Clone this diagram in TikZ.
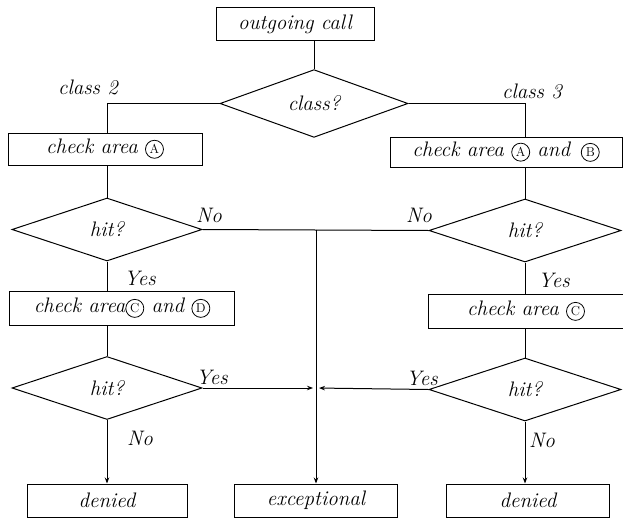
\documentclass[tikz,border=0pt]{standalone}
\usepackage{tikz}
\usetikzlibrary{positioning,arrows.meta,shapes.geometric}

\newcommand{\circletter}[1]{\tikz[baseline=(cl.base)]\node[draw, circle, line width=0.8pt,
  inner sep=0pt, minimum size=18pt, font=\fontsize{13}{14}\selectfont\upshape] (cl) {#1};}

\begin{document}
\begin{tikzpicture}[
  x=1pt, y=-1pt, line width=1pt,
  every node/.style={font=\fontsize{21}{24}\selectfont\itshape},
  stepbox/.style={draw, rectangle, minimum height=33pt, inner sep=2pt},
  test/.style={draw, diamond, inner sep=0pt, minimum width=190pt, minimum height=63pt},
  arr/.style={-{Stealth[length=6pt, width=4.5pt]}},
]
\useasboundingbox (0,0) rectangle (623,519);

% Start
\node[stepbox, minimum width=158pt] (out) at (295,24) {outgoing call};
\node[test, minimum width=188pt] (cls) at (314,103.5) {class?};

% Left branch (class 2)
\node[stepbox, minimum width=194pt, minimum height=32pt] (ckA) at (105,149)
  {check area \circletter{A}};
\node[test] (hitA) at (107,229.5) {hit?};
\node[stepbox, minimum width=225pt, minimum height=34pt] (ckCD) at (122,308)
  {check area\circletter{C} and \circletter{D}};
\node[test] (hitCD) at (107,388) {hit?};
\node[stepbox, minimum width=160pt] (denL) at (107,500.5) {denied};

% Right branch (class 3)
\node[stepbox, minimum width=232pt, minimum height=30pt] (ckAB) at (506,152)
  {check area \circletter{A} and \,\circletter{B}};
\node[test, minimum width=192pt] (hitAB) at (525,230.5) {hit?};
\node[stepbox, minimum width=195pt, minimum height=34pt] (ckC) at (526,311)
  {check area \circletter{C}};
\node[test, minimum width=192pt] (hitC) at (525,389.5) {hit?};
\node[stepbox, minimum width=163pt] (denR) at (528,500.5) {denied};

% Middle
\node[stepbox, minimum width=163pt] (exc) at (316,500.5) {exceptional};
\coordinate (noJoin) at (exc.north |- hitA.east);
\coordinate (yesJoin) at (exc.north |- hitCD.east);

% Branch labels
\node (lblC2) at (88,87) {class 2};
\node (lblC3) at (532,91) {class 3};
\node (lblNoA) at (209,215) {No};
\node (lblNoAB) at (419,215) {No};
\node (lblYesA) at (140,278) {Yes};
\node (lblYesAB) at (554,280) {Yes};
\node (lblYesCD) at (212,377) {Yes};
\node (lblYesC) at (422,378) {Yes};
\node (lblNoCD) at (140,438) {No};
\node (lblNoC) at (542,440) {No};

% Connectors
\draw (out.south -| cls.north) -- (cls.north);
\draw (cls.west) -| (hitA.north |- ckA.north);
\draw (cls.east) -| (hitAB.north |- ckAB.north);
\draw (hitA.north |- ckA.south) -- (hitA.north);
\draw (hitA.south) -- (hitA.south |- ckCD.north);
\draw (hitCD.north |- ckCD.south) -- (hitCD.north);
\draw[arr] (hitCD.south) -- (hitCD.south |- denL.north);
\draw (hitAB.north |- ckAB.south) -- (hitAB.north);
\draw (hitAB.south) -- (hitAB.south |- ckC.north);
\draw (hitC.north |- ckC.south) -- (hitC.north);
\draw[arr] (hitC.south) -- (hitC.south |- denR.north);

% Exceptional path
\draw (hitA.east) -- (hitAB.west);
\draw[arr] (noJoin) -- (exc.north);
\draw[arr, shorten >=3pt] (hitCD.east) -- (yesJoin);
\draw[arr, shorten >=3pt] (hitC.west) -- (yesJoin);

\end{tikzpicture}
\end{document}
